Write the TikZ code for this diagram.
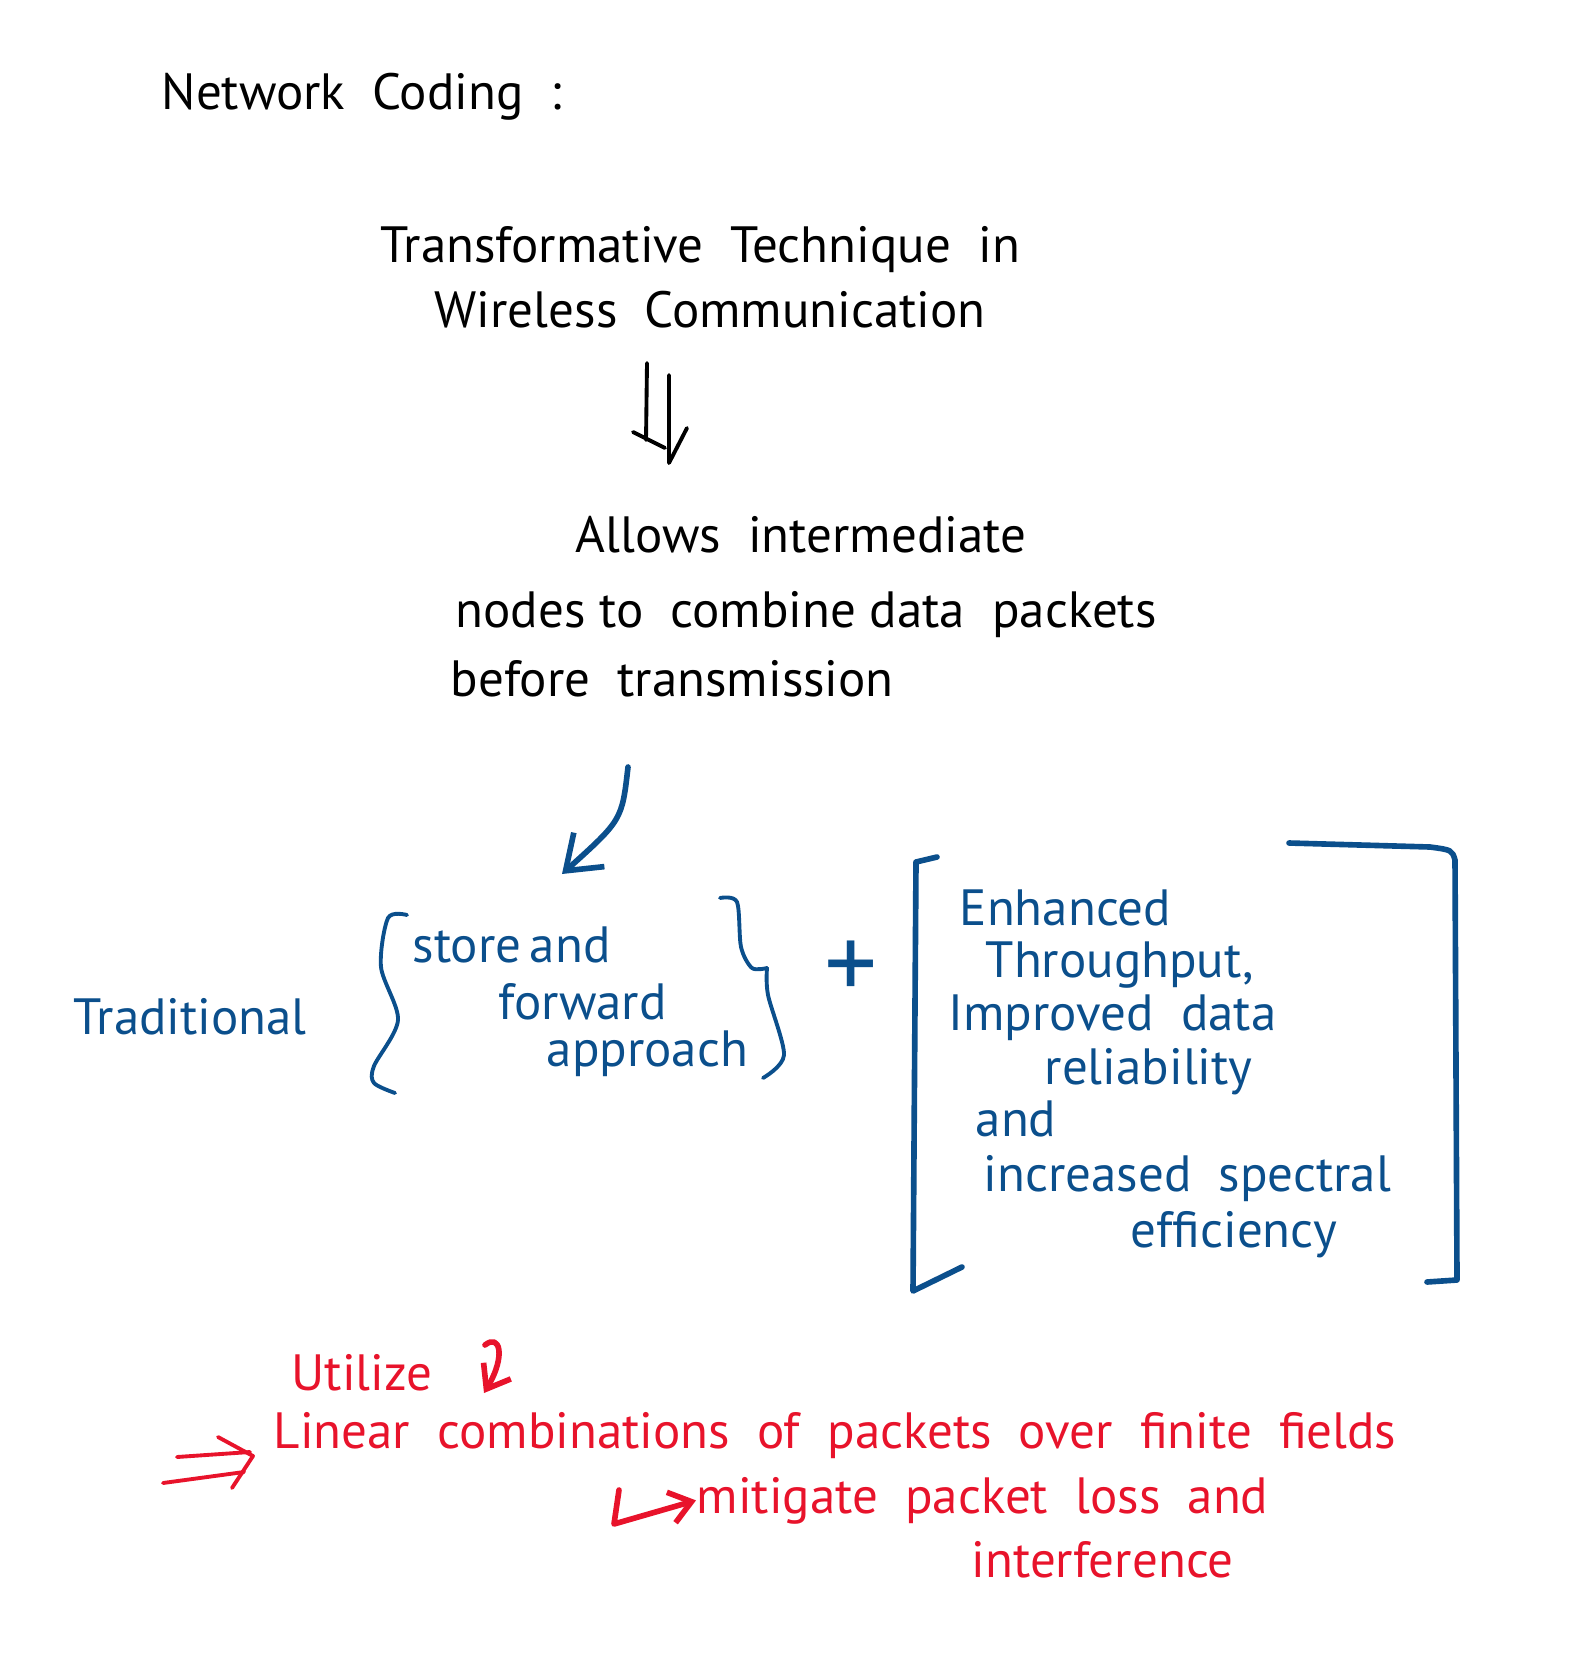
\documentclass[tikz,border=0pt]{standalone}
\usepackage{fontspec}
\setmainfont{PT Sans}
\usetikzlibrary{arrows.meta}
\definecolor{penblue}{HTML}{0B4F8C}
\definecolor{penred}{HTML}{E8132B}
\begin{document}
\begin{tikzpicture}[
        x=0.01cm,
        y=-0.01cm,
        line cap=round,
        line join=round,
        % text styles
        hand/.style={font=\fontsize{14.5}{17}\selectfont, inner sep=0pt, anchor=base west},
        blk/.style={hand, black},
        blu/.style={hand, penblue},
        rd/.style={hand, penred},
        % stroke styles
        stroke/.style={line width=1.6pt},
        thin stroke/.style={line width=1.1pt},
    ]
    \useasboundingbox (0,0) rectangle (1581,1679);

    % title and first block
    \node[blk] (title) at (161,110) {Network\ \ Coding\ \ :};
    \node[blk] (techA) at (380,262) {Transformative\ \ Technique\ \ in};
    \node[blk] (techB) at (434,327) {Wireless\ \ Communication};

    % double arrow
    \coordinate (dlA) at (647,363);
    \coordinate (dlB) at (646,440);
    \coordinate (drA) at (669,375);
    \coordinate (drB) at (669,463);
    \draw[thin stroke] (dlA) -- (dlB);
    \draw[thin stroke] (633,432) -- (665,448);
    \draw[thin stroke] (drA) -- (drB) -- (687,428);

    % second block
    \node[blk] (allowsA) at (575,552) {Allows\ \ intermediate};
    \node[blk] (allowsB) at (455,627) {nodes\ to\ \ combine\ data\ \ packets};
    \node[blk] (allowsC) at (450,696) {before\ \ transmission};

    % blue arrow
    \coordinate (bstart) at (628,767);
    \coordinate (bend) at (562,874);
    \draw[stroke, penblue, -{Straight Barb[length=9pt,width=13pt]}]
        (bstart) .. controls (622,820) .. (bend);

    % traditional part
    \node[blu] (trad) at (73,1034) {Traditional};
    \draw[thin stroke, penblue] plot[smooth] coordinates
        {(407,915) (388,918) (381,967) (398,1020) (374,1066) (374,1083) (395,1093)};
    \node[blu] (storeA) at (412,962) {store\,and};
    \node[blu] (storeB) at (498,1019) {forward};
    \node[blu] (storeC) at (546,1066) {approach};
    \draw[thin stroke, penblue] plot[smooth] coordinates
        {(720,898) (737,902) (741,947) (752,968) (767,968)};
    \draw[thin stroke, penblue] plot[smooth] coordinates
        {(767,968) (768,995) (784,1055) (763,1078)};

    % plus
    \node[blu, font=\fontsize{30}{30}\selectfont, anchor=center] (plus) at (851,970) {+};

    % bracket with gains
    \draw[stroke, penblue] (937,857) -- (916,862) -- (913,1291) -- (962,1267);
    \draw[stroke, penblue] (1289,843) -- (1430,847) .. controls (1452,850) .. (1455,860)
        -- (1457,1280) -- (1427,1282);
    \node[blu] (gainA) at (959,925) {Enhanced};
    \node[blu] (gainB) at (985,977) {Throughput,};
    \node[blu] (gainC) at (948,1030) {Improved\ \ data};
    \node[blu] (gainD) at (1044,1084) {reliability};
    \node[blu] (gainE) at (975,1136) {and};
    \node[blu] (gainF) at (983,1191) {increased\ \ spectral};
    \node[blu] (gainG) at (1130,1247) {efficiency};

    % red part
    \node[rd] (utilize) at (291,1390) {Utilize};
    \coordinate (ustart) at (485,1345);
    \coordinate (uend) at (484,1393);
    \draw[stroke, penred, -{Straight Barb[length=6pt,width=9pt]}]
        (ustart) .. controls (500,1333) and (506,1356) .. (uend);

    \coordinate (rA) at (177,1457);
    \coordinate (rB) at (250,1452);
    \draw[thin stroke, penred] (rA) -- (rB);
    \draw[thin stroke, penred] (163,1483) -- (244,1472);
    \draw[thin stroke, penred] (218,1437) -- (253,1456) -- (232,1488);
    \node[rd] (linear) at (273,1448)
        {Linear\ \ combinations\ \ of\ \ packets\ \ over\ \ finite\ \ fields};

    \node[rd] (mitigate) at (696,1513) {mitigate\ \ packet\ \ loss\ \ and};
    \coordinate (hstart) at (619,1490);
    \coordinate (hcorner) at (614,1524);
    \draw[stroke, penred, -{Straight Barb[length=6pt,width=9pt]}]
        (hstart) -- (hcorner) -- (mitigate.west);
    \node[rd] (interf) at (971,1577) {interference};
\end{tikzpicture}
\end{document}
